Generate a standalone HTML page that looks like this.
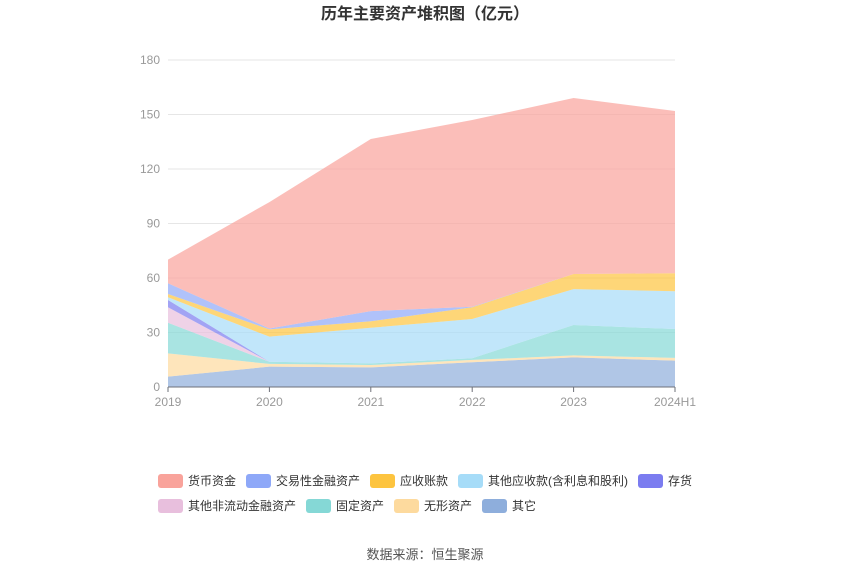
<!DOCTYPE html>
<html><head><meta charset="utf-8"><style>
body{margin:0;background:#fff;font-family:"Liberation Sans","Noto Sans CJK SC",sans-serif}
</style></head><body>
<svg id="c" width="850" height="575" xmlns="http://www.w3.org/2000/svg" style="display:block">
<text x="425" y="19" text-anchor="middle" font-size="16" font-weight="bold" fill="#333">历年主要资产堆积图（亿元）</text>
<g id="grid"></g><g id="areas"></g><g id="axes"></g><g id="legend"></g>
<text x="425" y="559" text-anchor="middle" font-size="13" fill="#555">数据来源：恒生聚源</text>
</svg>
<script>
const categories=["2019","2020","2021","2022","2023","2024H1"];
const seriesNames=["其它","无形资产","固定资产","其他非流动金融资产","存货","其他应收款(含利息和股利)","应收账款","交易性金融资产","货币资金"];
const other=[5.7,11.2,10.8,13.6,16.3,14.5];
const intangible=[12.8,1.5,1.3,1.3,1.1,1.5];
const fixed=[16.9,1.2,0.9,0.9,16.7,15.9];
const otherNonCurrent=[8.5,0,0,0,0,0];
const inventory=[4,0,0,0,0,0];
const otherRecv=[1.5,13.8,19.6,21.6,19.8,20.8];
const accountsRecv=[1.8,4,3.6,6.5,8.3,9.9];
const trading=[5.9,0.5,5.6,0.3,0,0];
const cash=[13,69.6,94.7,102.8,96.9,89.3];
const yTicks=[0,30,60,90,120,150,180];
const series=[other,intangible,fixed,otherNonCurrent,inventory,otherRecv,accountsRecv,trading,cash];
const colors=["#8eaedc","#fdda9e","#85d8d6","#e8bfdd","#7b7cf0","#a6dcf8","#fdc43f","#8ea8f8","#f9a39b"];
const slugs=["other","intangible","fixed","other-noncurrent","inventory","other-receivables","accounts-receivable","trading-assets","cash"];
const NS="http://www.w3.org/2000/svg";
const x0=168,x1=675,y0=387,y1=60,ymax=180;
const xs=i=>x0+(x1-x0)*i/(categories.length-1);
const ys=v=>y0-(y0-y1)*v/ymax;
function mk(t,a,p){const e=document.createElementNS(NS,t);for(const k in a)e.setAttribute(k,a[k]);p.appendChild(e);return e;}
const grid=document.getElementById('grid'),axes=document.getElementById('axes'),areas=document.getElementById('areas'),legend=document.getElementById('legend');
yTicks.forEach(t=>{
 if(t>0){const l=mk('line',{x1:x0,x2:x1,y1:ys(t),y2:ys(t),stroke:'#e6e6e6'},grid);}
 const tx=mk('text',{x:160,y:ys(t)+4,'text-anchor':'end','font-size':12,fill:'#999'},axes);tx.textContent=t;
 
});
let base=categories.map(()=>0);
series.forEach((s,k)=>{
 const top=base.map((b,i)=>b+s[i]);
 let d='M'+top.map((v,i)=>xs(i)+','+ys(v)).join('L');
 for(let i=base.length-1;i>=0;i--)d+='L'+xs(i)+','+ys(base[i]);
 const p=mk('path',{d:d+'Z',fill:colors[k],'fill-opacity':0.7},areas);
 
 base=top;
});
const ax=mk('line',{x1:x0,x2:x1,y1:y0,y2:y0,stroke:'#6e7079'},axes);

categories.forEach((c,i)=>{
 const tk=mk('line',{x1:xs(i),x2:xs(i),y1:y0,y2:y0+5,stroke:'#6e7079'},axes);
 
 const tx=mk('text',{x:xs(i),y:406,'text-anchor':'middle','font-size':12,fill:'#999'},axes);tx.textContent=c;
 
});
const legOrder=[8,7,6,5,4,3,2,1,0];
const legPos=[[160,481],[248,481],[372,481],[460,481],[640,481],[160,506],[308,506],[396,506],[484,506]];
legOrder.forEach((k,j)=>{
 const [lx,ly]=legPos[j];
 const g=mk('g',{},legend);
 mk('rect',{x:lx-2,y:ly-7,width:25,height:14,rx:3,fill:colors[k]},g);
 const t=mk('text',{x:lx+28,y:ly+4,'font-size':12,fill:'#333'},g);t.textContent=seriesNames[k];
});
</script>
</body></html>
